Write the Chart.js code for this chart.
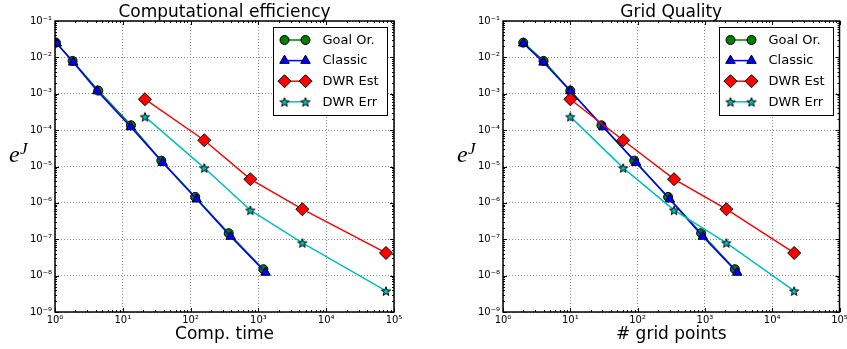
<!DOCTYPE html>
<html>
<head>
<meta charset="utf-8">
<script src="https://cdn.jsdelivr.net/npm/chart.js@4.4.1/dist/chart.umd.min.js"></script>
<style>
  html, body { margin: 0; padding: 0; background: #fff; }
  #wrap { position: relative; width: 847px; height: 349px; overflow: hidden; }
  canvas { position: absolute; top: 0; }
  #left { left: 0; }
  #right { left: 424px; }
</style>
</head>
<body>
<div id="wrap">
  <canvas id="left" width="423" height="349"></canvas>
  <canvas id="right" width="423" height="349"></canvas>
</div>
<script>
// series names (legend)
var seriesNames = ['Goal Or.', 'Classic', 'DWR Est', 'DWR Err'];

// x values: computational time (left panel)
var goalTime    = [1.03, 1.82, 4.35, 13.2, 37, 117, 365, 1183];
var classicTime = [1.06, 1.86, 4.2, 13.1, 38.7, 123, 390, 1276];
var dwrTime     = [21.2, 159, 760, 4446, 76200];

// x values: number of grid points (right panel)
var goalPts    = [2, 4, 10, 29, 89, 284, 880, 2790];
var classicPts = [2, 4, 10, 31, 95, 300, 930, 3020];
var dwrPts     = [10, 61, 348, 2083, 21200];

// y values: error e^J (same in both panels)
var goalErr    = [0.0254, 0.0080, 1.22e-3, 1.36e-4, 1.45e-5, 1.46e-6, 1.47e-7, 1.5e-8];
var classicErr = [0.0244, 0.0073, 1.19e-3, 1.22e-4, 1.28e-5, 1.26e-6, 1.19e-7, 1.22e-8];
var dwrEstErr  = [7.07e-4, 5.27e-5, 4.48e-6, 6.7e-7, 4.2e-8];
var dwrErrErr  = [2.35e-4, 9.2e-6, 6.3e-7, 8.0e-8, 3.8e-9];

// axis tick exponents (decades)
var xTickExps = [0, 1, 2, 3, 4, 5];
var yTickExps = [-9, -8, -7, -6, -5, -4, -3, -2, -1];

var FONT = 'DejaVu Sans';
var SUP = { '-': '\u207B', '0': '\u2070', '1': '\u00B9', '2': '\u00B2', '3': '\u00B3',
  '4': '\u2074', '5': '\u2075', '6': '\u2076', '7': '\u2077', '8': '\u2078', '9': '\u2079' };

function powLabel(v) {
  var e = String(Math.round(Math.log10(v)));
  var s = '';
  for (var i = 0; i < e.length; i++) s += SUP[e[i]];
  return '10' + s;
}

function pairs(xs, ys) {
  return xs.map(function(x, i) { return { x: x, y: ys[i] }; });
}

function makeStar(fill, rOut, rIn) {
  var c = document.createElement('canvas');
  var s = 12;
  c.width = s; c.height = s;
  var g = c.getContext('2d');
  var cx = s / 2, cy = s / 2 + 0.6;
  g.beginPath();
  for (var i = 0; i < 10; i++) {
    var r = i % 2 ? rIn : rOut;
    var a = -Math.PI / 2 + i * Math.PI / 5;
    g.lineTo(cx + r * Math.cos(a), cy + r * Math.sin(a));
  }
  g.closePath();
  g.fillStyle = fill; g.fill();
  g.lineWidth = 1; g.strokeStyle = '#000'; g.stroke();
  return c;
}

var starImg = makeStar('#00bfbf', 4.8, 2.0);

function buildDatasets(xGoal, xClassic, xDwr) {
  return [
    { label: seriesNames[0], data: pairs(xGoal, goalErr), borderColor: '#008000', backgroundColor: '#008000',
      pointStyle: 'circle', pointRadius: 4.5, order: 4 },
    { label: seriesNames[1], data: pairs(xClassic, classicErr), borderColor: '#0000ff', backgroundColor: '#0000ff',
      pointStyle: 'triangle', pointRadius: 5.5, order: 3 },
    { label: seriesNames[2], data: pairs(xDwr, dwrEstErr), borderColor: '#ff0000', backgroundColor: '#ff0000',
      pointStyle: 'rectRot', pointRadius: 6.5, order: 2 },
    { label: seriesNames[3], data: pairs(xDwr, dwrErrErr), borderColor: '#00bfbf', backgroundColor: '#00bfbf',
      pointStyle: starImg, pointRadius: 5, order: 1 }
  ].map(function(d) {
    d.borderWidth = 1.5;
    d.pointBorderColor = '#000';
    d.pointBackgroundColor = d.backgroundColor;
    d.pointBorderWidth = 1;
    d.tension = 0;
    d.fill = false;
    return d;
  });
}

function drawMarker(ctx, ds, x, y) {
  var r = ds.pointRadius, st = ds.pointStyle;
  if (typeof st !== 'string') {
    ctx.drawImage(st, x - st.width / 2, y - st.height / 2);
    return;
  }
  ctx.beginPath();
  if (st === 'circle') {
    ctx.arc(x, y, r, 0, Math.PI * 2);
  } else if (st === 'triangle') {
    for (var i = 0; i < 3; i++) {
      var a = i * 2 * Math.PI / 3;
      ctx.lineTo(x + Math.sin(a) * r, y - Math.cos(a) * r);
    }
  } else if (st === 'rectRot') {
    ctx.moveTo(x - r, y); ctx.lineTo(x, y - r); ctx.lineTo(x + r, y); ctx.lineTo(x, y + r);
  }
  ctx.closePath();
  ctx.fillStyle = ds.pointBackgroundColor; ctx.fill();
  ctx.lineWidth = 1; ctx.strokeStyle = '#000'; ctx.stroke();
}

// frame, inward ticks, legend and the e^J label (matplotlib look)
var decor = {
  id: 'decor',
  afterDatasetsDraw: function(chart) {
    var ctx = chart.ctx, a = chart.chartArea;
    var xs = chart.scales.x, ys = chart.scales.y;
    ctx.save();
    ctx.strokeStyle = '#000';
    ctx.lineWidth = 1;
    ctx.beginPath();
    xTickExps.forEach(function(e) {
      for (var k = 1; k <= 9; k++) {
        var v = k * Math.pow(10, e);
        if (v > xs.max * 1.0001) break;
        var px = Math.round(xs.getPixelForValue(v)) + 0.5;
        var len = k === 1 ? 4 : 2;
        ctx.moveTo(px, a.bottom); ctx.lineTo(px, a.bottom - len);
        ctx.moveTo(px, a.top); ctx.lineTo(px, a.top + len);
      }
    });
    yTickExps.forEach(function(e) {
      for (var k = 1; k <= 9; k++) {
        var v = k * Math.pow(10, e);
        if (v > ys.max * 1.0001) break;
        var py = Math.round(ys.getPixelForValue(v)) + 0.5;
        var len = k === 1 ? 4 : 2;
        ctx.moveTo(a.left, py); ctx.lineTo(a.left + len, py);
        ctx.moveTo(a.right, py); ctx.lineTo(a.right - len, py);
      }
    });
    ctx.stroke();
    ctx.lineWidth = 1.5;
    ctx.strokeRect(a.left, a.top, a.right - a.left, a.bottom - a.top);
    ctx.restore();
  },
  afterDraw: function(chart) {
    var ctx = chart.ctx, a = chart.chartArea;
    var dsets = chart.data.datasets;
    ctx.save();
    // legend box
    var bw = 114, bh = 88;
    var bx = Math.round(a.right - 7 - bw) + 0.5, by = Math.round(a.top + 6) + 0.5;
    ctx.fillStyle = '#fff';
    ctx.fillRect(bx, by, bw, bh);
    ctx.lineWidth = 1;
    ctx.strokeStyle = '#000';
    ctx.strokeRect(bx, by, bw, bh);
    ctx.font = '13px "' + FONT + '"';
    ctx.textBaseline = 'middle';
    ctx.textAlign = 'left';
    dsets.forEach(function(ds, i) {
      var y = by + 12.5 + i * 20.6;
      var x1 = bx + 11, x2 = bx + 32;
      ctx.beginPath();
      ctx.moveTo(x1, y); ctx.lineTo(x2, y);
      ctx.lineWidth = 1.5; ctx.strokeStyle = ds.borderColor; ctx.stroke();
      drawMarker(ctx, ds, x1, y);
      drawMarker(ctx, ds, x2, y);
      ctx.fillStyle = '#000';
      ctx.fillText(ds.label, bx + 49, y + 0.5);
    });
    // y label e^J
    var lx = a.left - 46;
    ctx.fillStyle = '#000';
    ctx.textBaseline = 'alphabetic';
    ctx.font = 'italic 24px "Liberation Serif"';
    ctx.fillText('e', lx, 162);
    ctx.font = 'italic 17px "Liberation Serif"';
    ctx.fillText('J', lx + 11, 154);
    ctx.restore();
  }
};

function makeChart(id, title, xTitle, datasets, yWidth, padRight) {
  var tickFont = { family: FONT, size: 10 };
  return new Chart(document.getElementById(id), {
    type: 'line',
    data: { datasets: datasets },
    options: {
      responsive: false,
      animation: false,
      events: [],
      layout: { padding: { left: 0, right: padRight, top: 0, bottom: 0 } },
      plugins: {
        legend: { display: false },
        tooltip: { enabled: false },
        title: {
          display: true, text: title, fullSize: false, color: '#000',
          font: { family: FONT, size: 17, weight: 'normal', lineHeight: '17px' },
          padding: { top: 4, bottom: 0 }
        }
      },
      scales: {
        x: {
          type: 'logarithmic',
          min: Math.pow(10, xTickExps[0]),
          max: Math.pow(10, xTickExps[xTickExps.length - 1]),
          afterBuildTicks: function(scale) {
            scale.ticks = xTickExps.map(function(e) { return { value: Math.pow(10, e), major: true }; });
          },
          afterFit: function(scale) {
            scale.height = 37;
            scale.paddingLeft = 0;
            scale.paddingRight = 0;
          },
          ticks: {
            callback: function(v) { return powLabel(v); },
            font: tickFont, color: '#000', padding: 2, maxRotation: 0, autoSkip: false
          },
          grid: { color: '#8c8c8c', lineWidth: 1, drawTicks: false },
          border: { display: false, dash: [1, 2] },
          title: {
            display: true, text: xTitle, color: '#000',
            font: { family: FONT, size: 17, lineHeight: '18px' },
            padding: { top: 0, bottom: 5 }
          }
        },
        y: {
          type: 'logarithmic',
          min: Math.pow(10, yTickExps[0]),
          max: Math.pow(10, yTickExps[yTickExps.length - 1]),
          afterBuildTicks: function(scale) {
            scale.ticks = yTickExps.map(function(e) { return { value: Math.pow(10, e), major: true }; });
          },
          afterFit: function(scale) {
            scale.width = yWidth;
            scale.paddingTop = 0;
            scale.paddingBottom = 0;
          },
          ticks: {
            callback: function(v) { return powLabel(v); },
            font: tickFont, color: '#000', padding: 3, autoSkip: false
          },
          grid: { color: '#8c8c8c', lineWidth: 1, drawTicks: false },
          border: { display: false, dash: [1, 2] }
        }
      }
    },
    plugins: [decor]
  });
}

makeChart('left', 'Computational efficiency', 'Comp. time',
  buildDatasets(goalTime, classicTime, dwrTime), 55, 29);
makeChart('right', 'Grid Quality', '# grid points',
  buildDatasets(goalPts, classicPts, dwrPts), 79, 5);
</script>
</body>
</html>
